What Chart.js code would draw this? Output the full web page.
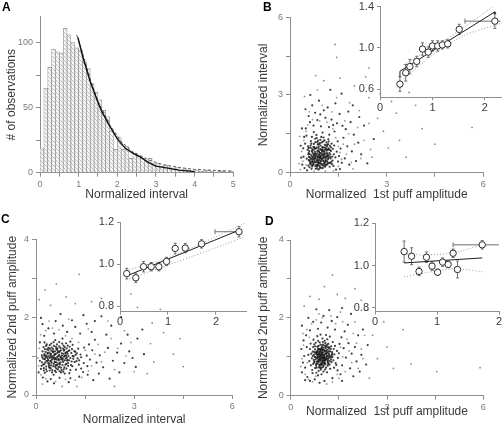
<!DOCTYPE html>
<html>
<head>
<meta charset="utf-8">
<script src="https://cdn.jsdelivr.net/npm/chart.js"></script>
<style>
  body { margin: 0; background: #fff; }
  #fig { position: relative; width: 503px; height: 428px; overflow: hidden; }
  #fig canvas { position: absolute; }
  .tag { position: absolute; font: bold 12px "Liberation Sans", Arial, sans-serif; line-height: 12px; color: #000; }
</style>
</head>
<body>
<div id="fig">
  <canvas id="cA"></canvas>
  <canvas id="cB"></canvas>
  <canvas id="cC"></canvas>
  <canvas id="cD"></canvas>
  <canvas id="iB"></canvas>
  <canvas id="iC"></canvas>
  <canvas id="iD"></canvas>
  <div class="tag" style="left:2px;top:1px">A</div>
  <div class="tag" style="left:263px;top:1px">B</div>
  <div class="tag" style="left:1px;top:213px">C</div>
  <div class="tag" style="left:265px;top:215px">D</div>
</div>
<script>
const FONT = "'Liberation Sans', Arial, sans-serif";
const AXIS = '#8e8e8e';
const TITLE = '#3a3a3a';

// ---- panel A: histogram of normalized intervals ----
const aBinMid = [0.05,0.15,0.25,0.35,0.45,0.55,0.65,0.75,0.85,0.95,
                 1.05,1.15,1.25,1.35,1.45,1.55,1.65,1.75,1.85,1.95,
                 2.05,2.15,2.25,2.35,2.45,2.55,2.65,2.75,2.85,2.95,
                 3.05,3.15,3.25,3.35,3.45,3.55,3.65,3.75,3.85,3.95,
                 4.05,4.15,4.25,4.35,4.45,4.55,4.65,4.75,4.85,4.95];
const aCount = [19,65,81,95,93,92,111,106,100,96,
                94,85,80,69,62,56,48,43,32,18,
                27,18,20,11,15,13,11,9,11,7,
                7,5,6,4,3,4,2,3,2,1,
                2,1,1,2,1,0,1,1,0,1];
const aFitX = [0.98,1.1,1.2,1.3,1.4,1.5,1.6,1.8,2.0,2.2,2.4,2.6,2.8,3.0,3.3,3.6,4.0];
const aFitY = [104,90,80,70,62,54,47,36,26,19,15,12,8,5,3.5,2,0.8];
const aTailX = [0.95,1.1,1.3,1.5,1.8,2.1,2.4,2.8,3.2,3.6,4.0,4.5,5.0];
const aTailY = [106,92,72,55,37,24,16,10,6,4,2.5,1.8,1.2];
const aXTicks = [0,0.5,1,1.5,2,2.5,3,3.5,4,4.5,5];
const aXLabels = ['0','','1','','2','','3','','4','','5'];
const aYTicks = [0,25,50,75,100];
const aYLabels = ['0','','50','','100'];

// ---- main scatter ticks (B, C, D) ----
const sixTicks = [0,1.5,3,4.5,6];
const sixLabels = ['0','','3','','6'];
const fourTicks = [0,1,2,3,4];
const fourLabels = ['0','','2','','4'];

// ---- panel B: interval vs 1st puff amplitude ----
const bDots = [
  [0.62,0.35],[0.71,0.52],[0.83,0.28],[0.95,0.61],[1.04,0.44],[1.12,0.73],[0.88,0.95],[0.77,0.81],[1.21,0.38],[0.66,0.67],
  [0.93,0.22],[1.01,0.88],[1.15,1.02],[0.58,0.49],[0.74,1.11],[0.86,0.57],[0.99,0.33],[1.08,0.65],[1.27,0.84],[0.69,0.24],
  [0.81,0.41],[0.92,0.78],[1.03,1.21],[1.18,0.52],[0.55,0.88],[0.64,1.05],[0.97,1.38],[1.11,0.29],[1.24,0.61],[0.79,0.66],
  [0.87,1.24],[1.06,0.97],[0.73,0.31],[0.91,0.49],[1.32,0.47],[1.19,1.29],[0.61,0.72],[0.84,0.18],[1.02,0.56],[0.95,1.05],
  [0.68,0.93],[1.14,0.85],[0.76,0.46],[0.89,0.69],[1.09,0.41],[1.29,1.12],[0.57,0.27],[0.98,0.74],[1.23,0.23],[0.82,1.46],
  [0.72,0.59],[0.94,0.91],[1.05,0.26],[1.16,0.64],[0.63,0.42],[0.85,0.83],[1.36,0.71],[0.78,1.31],[1.01,1.55],[0.9,0.37],
  [1.13,1.17],[0.67,0.15],[0.8,0.54],[0.96,0.47],[1.2,0.94],[1.07,0.79],[0.59,0.61],[0.75,0.98],[0.88,0.12],[1.26,0.55],
  [1.0,0.68],[0.86,1.09],[1.1,0.52],[0.7,0.77],[0.93,0.59],[1.17,0.34],[0.52,0.54],[1.33,0.92],[0.81,0.71],[1.04,1.36],
  [0.65,1.22],[0.92,0.27],[1.22,1.47],[0.77,0.39],[0.99,0.86],[1.12,0.58],[0.6,0.83],[0.84,0.63],[1.3,0.33],[0.74,1.57],
  [0.97,0.19],[1.08,1.08],[0.69,0.45],[0.89,1.01],[1.15,0.76],[1.41,0.59],[0.56,1.02],[0.79,0.25],[1.03,0.71],[0.94,1.27],
  [0.83,0.48],[1.25,0.71],[0.71,0.87],[1.06,0.36],[0.9,0.81],[1.18,1.1],[0.62,0.58],[1.37,1.05],[0.87,0.32],[1.0,0.99],
  [0.76,0.64],[1.11,0.95],[0.95,0.42],[1.28,0.42],[0.66,0.31],[0.85,1.18],[1.2,0.66],[1.02,0.18],[0.73,0.72],[0.91,0.63],
  [1.14,0.47],[0.58,0.76],[0.8,0.93],[1.35,0.26],[0.97,0.55],[1.07,1.25],[0.68,1.38],[0.88,0.44],[1.23,0.88],[1.45,0.81],
  [0.64,0.51],[0.78,0.58],[0.91,0.71],[1.05,0.82],[1.16,0.41],[0.72,0.37],[0.86,0.26],[0.99,0.52],[1.13,0.62],[0.68,0.83],
  [0.82,0.97],[0.95,0.35],[1.09,0.23],[1.22,0.76],[0.6,0.46],[0.74,0.69],[0.88,0.86],[1.02,0.97],[1.18,0.89],[0.66,1.12],
  [0.8,0.15],[0.93,1.14],[1.06,0.58],[1.31,0.62],[0.7,0.29],[0.84,0.75],[0.97,0.89],[1.11,1.05],[1.25,0.37],[0.57,0.71],
  [0.75,0.53],[0.89,0.38],[1.03,0.47],[1.17,0.69],[0.63,0.97],[0.79,1.18],[0.92,0.16],[1.08,0.87],[1.2,1.2],[0.71,0.42],
  [0.87,0.62],[1.0,0.81],[1.14,0.31],[0.67,0.54],[0.83,1.34],[0.96,0.66],[1.1,0.45],[1.27,0.98],[0.61,0.21],[0.76,0.92],
  [0.9,1.1],[1.04,0.63],[1.19,0.57],[0.73,1.0],[0.86,0.49],[0.99,1.17],[1.13,0.91],[0.65,0.39],[0.81,0.29],[1.07,0.34],
  [0.94,0.76],[1.24,1.04],[0.69,0.62],[0.85,0.4],[1.01,0.29],[1.16,1.08],[0.78,0.75],[0.92,0.55],[1.06,0.72],[0.58,0.95],
  [0.42,0.62],[0.38,0.31],[0.47,1.12],[0.45,0.18],[0.51,1.43],[1.52,0.64],[1.61,0.38],[1.48,1.21],[1.57,0.93],[1.66,1.35],
  [0.49,1.71],[0.73,1.82],[0.96,1.79],[1.21,1.76],[1.38,1.59],[0.85,2.03],[1.1,2.12],[0.62,1.95],[1.46,1.91],[1.7,0.55],
  [1.78,1.02],[1.84,0.31],[1.55,0.14],[0.41,0.94],[0.35,0.58],[0.44,1.38],[0.53,0.09],[1.43,0.12],[1.73,1.68],[1.29,2.05],
  [0.78,2.31],[1.05,2.41],[0.58,2.19],[1.54,2.27],[1.92,0.82],[1.98,1.47],[2.05,0.45],[1.88,1.95],[0.37,1.71],[1.34,1.84],
  [0.94,2.25],[1.63,1.81],[1.49,0.43],[0.33,1.04],[2.12,1.16],[1.81,2.36],[0.69,2.6],[1.17,2.52],[2.21,0.71],[2.3,1.82],
  [0.48,2.45],[1.41,2.68],[0.9,2.78],[1.95,2.6],[2.4,0.36],[2.15,2.15],[1.6,3.05],[0.63,3.0],[2.6,1.3],[1.25,3.2]
];
const bHalo = [
  [0.32,0.12],[0.4,0.45],[0.36,0.82],[0.43,1.25],[0.5,1.6],[0.55,1.85],[0.7,2.05],[0.92,2.0],[1.15,1.95],[1.33,1.7],
  [1.42,1.35],[1.5,1.02],[1.55,0.78],[1.6,0.52],[1.5,0.25],[1.35,0.08],[1.1,0.06],[0.75,0.05],[0.5,0.3],[1.65,1.1],
  [1.75,0.72],[1.82,1.5],[1.9,0.4],[2.0,1.1],[2.1,1.75],[2.2,0.55],[2.3,1.25],[1.7,2.0],[1.3,2.35],[0.6,2.35],
  [1.0,2.6],[1.85,2.7],[2.45,1.9],[2.5,0.9],[0.3,1.4],[0.28,0.35],[1.95,0.15],[2.15,2.4],[1.45,2.9],[0.85,3.2]
];
const bFar = [
  [2.45,2.9],[2.72,2.1],[2.9,1.6],[3.05,0.95],[2.55,0.6],[3.3,2.3],[1.05,3.55],[2.0,3.35],[2.8,3.05],[3.4,1.25],
  [0.8,3.75],[1.55,3.65],[3.15,2.75],[2.35,3.7],[3.6,0.6],[4.1,1.7],[1.45,4.45],[1.4,4.95],[2.45,4.05],[3.9,2.6],
  [5.65,1.75],[4.5,1.1],[0.45,2.95],[3.7,3.1]
];

// ---- panel C: 2nd puff amplitude vs interval ----
const cDots = [
  [0.35,0.95],[0.52,1.12],[0.28,0.83],[0.61,0.95],[0.44,1.04],[0.73,1.12],[0.95,0.88],[0.81,0.77],[0.38,1.21],[0.67,0.66],
  [0.22,0.93],[0.88,1.01],[1.02,1.15],[0.49,0.58],[1.11,0.74],[0.57,0.86],[0.33,0.99],[0.65,1.08],[0.84,1.27],[0.24,0.69],
  [0.41,0.81],[0.78,0.92],[1.21,1.03],[0.52,1.18],[0.88,0.55],[1.05,0.64],[1.38,0.97],[0.29,1.11],[0.61,1.24],[0.66,0.79],
  [1.24,0.87],[0.97,1.06],[0.31,0.73],[0.49,0.91],[0.47,1.32],[1.29,1.19],[0.72,0.61],[0.18,0.84],[0.56,1.02],[1.05,0.95],
  [0.93,0.68],[0.85,1.14],[0.46,0.76],[0.69,0.89],[0.41,1.09],[1.12,1.29],[0.27,0.57],[0.74,0.98],[0.23,1.23],[1.46,0.82],
  [0.59,0.72],[0.91,0.94],[0.26,1.05],[0.64,1.16],[0.42,0.63],[0.83,0.85],[0.71,1.36],[1.31,0.78],[1.55,1.01],[0.37,0.9],
  [1.17,1.13],[0.15,0.67],[0.54,0.8],[0.47,0.96],[0.94,1.2],[0.79,1.07],[0.61,0.59],[0.98,0.75],[0.12,0.88],[0.55,1.26],
  [0.68,1.0],[1.09,0.86],[0.52,1.1],[0.77,0.7],[0.59,0.93],[0.34,1.17],[0.54,0.52],[0.92,1.33],[0.71,0.81],[1.36,1.04],
  [1.22,0.65],[0.27,0.92],[1.47,1.22],[0.39,0.77],[0.86,0.99],[0.58,1.12],[0.83,0.6],[0.63,0.84],[0.33,1.3],[1.57,0.74],
  [0.19,0.97],[1.08,1.08],[0.45,0.69],[1.01,0.89],[0.76,1.15],[0.59,1.41],[1.02,0.56],[0.25,0.79],[0.71,1.03],[1.27,0.94],
  [0.48,0.83],[0.71,1.25],[0.87,0.71],[0.36,1.06],[0.81,0.9],[1.1,1.18],[0.58,0.62],[1.05,1.37],[0.32,0.87],[0.99,1.0],
  [0.64,0.76],[0.95,1.11],[0.42,0.95],[0.42,1.28],[0.31,0.66],[1.18,0.85],[0.66,1.2],[0.18,1.02],[0.72,0.73],[0.63,0.91],
  [0.47,1.14],[0.76,0.58],[0.93,0.8],[0.26,1.35],[0.55,0.97],[1.25,1.07],[1.38,0.68],[0.44,0.88],[0.88,1.23],[0.81,1.45],
  [0.3,1.01],[0.45,0.87],[0.6,1.05],[0.75,0.84],[0.9,1.08],[0.38,1.15],[0.53,0.74],[0.68,0.93],[0.83,1.19],[0.98,0.82],
  [0.22,0.78],[0.36,0.88],[0.5,1.0],[0.64,1.3],[0.79,1.01],[0.94,0.97],[1.14,0.93],[0.27,1.18],[0.41,0.7],[0.56,0.92],
  [0.7,1.1],[0.85,0.66],[1.0,1.13],[0.33,0.61],[0.48,1.22],[0.62,0.68],[0.77,0.96],[0.92,1.02],[1.07,0.77],[0.2,1.12],
  [0.35,1.08],[0.5,0.64],[0.65,0.98],[0.8,1.32],[0.96,0.91],[1.2,1.11],[0.29,0.96],[0.43,1.19],[0.58,0.84],[0.73,0.79],
  [0.88,0.89],[1.03,1.24],[0.24,0.63],[0.39,0.99],[0.54,1.36],[0.69,0.71],[0.84,1.06],[1.15,0.99],[0.31,1.26],[0.46,1.06],
  [0.6,0.77],[0.75,1.21],[0.9,0.78],[1.32,0.89],[0.17,0.75],[0.52,0.95],[0.67,1.13],[0.82,0.94],[0.97,1.27],[0.4,0.73],
  [0.25,1.01],[0.57,1.05],[0.72,0.91],[0.87,1.16],[1.12,1.0],[0.37,0.82],[0.62,1.19],[0.78,0.64],[0.93,1.09],[0.45,1.0],
  [1.65,0.91],[1.72,1.15],[1.44,0.59],[1.85,0.83],[1.62,1.3],
  [1.95,1.02],[2.05,0.71],[1.8,1.42],[2.2,1.21],[2.35,0.88],[1.92,0.55],[2.48,1.09],[2.15,1.55],[1.7,1.62],[1.35,1.58],
  [0.95,1.62],[0.55,1.58],[0.25,1.52],[0.12,1.35],[0.08,0.58],[0.21,0.45],[0.45,0.41],[0.72,0.44],[1.05,0.43],[1.32,0.47],
  [1.58,0.52],[0.38,1.71],[0.82,1.78],[1.2,1.75],[1.55,1.83],[2.6,1.32],[2.7,0.82],[2.55,0.58],[2.85,1.12],[2.95,0.95],
  [1.1,1.92],[0.6,1.9],[0.2,1.82],[1.8,1.9],[2.3,1.78],[3.1,1.45],[3.05,0.72],[2.25,0.42],[0.35,0.35],[1.0,0.33],
  [0.15,1.98],[1.45,2.05],[2.0,2.02],[0.75,2.08],[3.3,1.05],[3.25,1.68],[2.8,1.55],[1.75,0.38],[0.55,0.3],[2.6,2.0]
];
const cHalo = [
  [0.06,0.95],[0.1,1.2],[0.08,0.75],[0.14,1.55],[0.3,1.65],[0.5,1.72],[0.7,1.68],[0.9,1.52],[1.1,1.45],[1.3,1.35],
  [1.5,1.15],[1.6,0.62],[1.4,0.45],[1.2,0.38],[0.9,0.4],[0.6,0.35],[0.3,0.42],[0.15,0.52],[1.8,1.05],[1.9,1.3],
  [2.0,0.85],[2.1,1.1],[2.3,1.45],[2.4,0.65],[2.5,1.2],[2.75,1.0],[2.9,1.35],[1.7,0.75],[0.4,1.9],[1.0,1.95],
  [1.6,1.7],[2.2,1.9],[2.7,1.65],[3.0,0.6],[0.2,0.28],[1.25,0.22]
];
const cFar = [
  [0.1,2.45],[0.28,2.7],[0.62,2.85],[0.92,2.52],[1.32,3.1],[2.0,2.48],[1.2,2.35],[0.45,2.3],[3.5,1.32],[3.6,0.85],
  [3.9,1.6],[4.4,1.45],[4.5,0.73],[3.8,2.2],[4.2,1.05],[3.1,2.25],[1.7,2.4],[2.4,0.22],[3.4,0.55],[0.8,0.22],
  [2.9,2.6],[3.55,1.85]
];

// ---- panel D: 2nd vs 1st puff amplitude ----
const dDots = [
  [0.95,1.02],[1.08,0.91],[0.87,1.13],[1.12,1.08],[0.78,0.94],[1.01,0.83],[1.19,1.21],[0.91,0.76],[0.83,1.26],[1.05,1.15],
  [0.99,0.97],[1.15,0.87],[0.72,1.05],[0.93,1.31],[1.24,0.98],[0.86,0.85],[1.03,1.24],[0.8,1.12],[1.1,0.72],[0.97,1.08],
  [1.29,1.12],[0.7,0.82],[0.89,0.99],[1.17,1.33],[1.06,0.95],[0.76,1.19],[0.94,0.67],[1.21,0.8],[0.84,1.04],[1.0,1.38],
  [1.13,1.01],[0.66,0.96],[0.92,1.18],[1.33,0.91],[0.81,0.72],[1.07,1.29],[0.98,0.86],[1.26,1.27],[0.73,1.32],[0.9,0.92],
  [1.18,0.95],[1.02,0.62],[0.85,1.41],[1.36,1.06],[0.69,1.13],[0.96,1.22],[1.11,1.16],[0.79,0.81],[1.23,0.69],[1.04,1.05],
  [0.88,1.09],[0.63,0.78],[1.4,0.84],[0.99,1.47],[1.15,0.77],[0.75,1.0],[1.31,1.38],[0.93,0.81],[1.08,1.35],[0.82,0.98],
  [1.2,1.05],[0.6,1.2],[1.01,0.74],[0.87,0.64],[1.27,0.86],[0.95,1.12],[1.44,1.15],[0.71,1.44],[1.14,1.45],[0.92,1.0],
  [1.05,0.84],[0.77,1.09],[1.35,0.72],[0.98,1.29],[0.84,0.9],[1.19,1.14],[0.67,0.66],[1.09,0.98],[1.47,0.97],[0.9,1.37],
  [1.02,1.11],[0.8,0.59],[1.25,1.2],[0.74,0.88],[1.12,0.93],[0.96,0.55],[1.38,1.28],[0.86,1.19],[1.07,0.67],[0.64,1.08],
  [1.16,1.25],[0.94,0.94],[1.3,0.99],[0.78,1.36],[1.03,0.89],[0.58,0.89],[1.22,1.52],[0.88,0.73],[1.5,1.09],[1.0,1.19],
  [0.83,1.53],[1.13,0.6],[0.7,1.25],[1.28,1.04],[0.97,0.79],[1.06,1.41],[0.62,1.34],[1.42,0.79],[0.91,1.06],[1.17,0.84],
  [0.76,0.71],[1.34,1.2],[1.04,0.97],[0.85,0.52],[1.52,1.33],[0.68,0.58],[1.1,1.56],[0.93,1.57],[1.46,0.65],[0.55,1.05],
  [0.96,0.98],[1.04,1.02],[0.9,1.04],[1.1,0.94],[0.84,0.96],[0.98,1.1],[1.14,1.12],[0.88,0.88],[1.02,0.92],[0.93,1.16],
  [1.07,1.07],[0.8,1.06],[1.2,0.99],[0.95,0.83],[1.09,1.22],[0.86,1.21],[1.0,1.04],[1.16,0.9],[0.77,0.99],[0.92,0.95],
  [1.06,0.85],[1.23,1.14],[0.83,1.15],[0.97,1.24],[1.12,1.03],[0.74,1.12],[0.89,0.79],[1.03,1.18],[1.18,1.03],[0.94,1.06],
  [1.08,0.81],[0.81,0.87],[1.26,0.93],[0.99,0.91],[0.87,1.28],[1.13,1.3],[0.72,0.92],[1.01,1.31],[1.15,0.96],[0.91,1.12],
  [1.05,0.99],[0.79,0.77],[1.21,1.24],[0.96,0.72],[1.11,1.1],[0.85,1.0],[0.99,1.16],[1.17,0.81],[0.69,1.02],[0.94,0.89],
  [1.07,1.14],[0.82,1.1],[1.29,1.08],[1.03,0.78],[0.9,1.2],[1.14,1.18],[0.76,1.27],[0.98,1.02],[1.22,0.89],[0.88,0.93],
  [1.0,0.96],[1.1,1.26],[0.83,0.82],[0.95,1.19],[1.19,1.09],[0.73,0.85],[1.06,0.91],[0.92,0.71],[1.25,1.01],[0.86,1.06],
  [0.45,0.72],[0.5,1.25],[0.42,1.02],[0.52,0.48],[0.48,1.55],[0.38,0.85],[1.6,0.78],[1.65,1.22],[1.58,1.5],[1.72,0.98],
  [1.55,0.55],[1.68,1.65],[0.6,1.68],[0.85,1.72],[1.15,1.75],[1.38,1.7],[0.75,0.42],[1.05,0.38],[1.3,0.45],[0.6,0.38],
  [1.8,1.35],[1.85,0.7],[1.9,1.08],[1.78,1.82],[0.4,1.42],[0.35,0.6],[0.33,1.2],[0.95,1.88],[1.28,1.92],[0.7,1.9],
  [2.0,1.25],[2.05,0.88],[2.1,1.55],[1.95,0.5],[1.45,2.02],[1.02,2.05],[0.55,2.0],[0.9,0.33],[1.6,0.38],[2.2,1.05],
  [2.25,1.7],[1.88,2.1],[0.35,1.8],[0.45,0.4],[2.35,0.8],[1.2,2.2],[0.8,2.22],[2.15,0.62],[1.6,2.25],[2.4,1.3]
];
const dHalo = [
  [0.35,0.95],[0.4,1.3],[0.45,0.55],[0.5,1.7],[0.55,0.42],[0.65,1.85],[0.68,0.36],[0.8,1.95],[0.98,2.0],[1.12,0.3],
  [1.3,0.35],[1.4,1.85],[1.5,0.45],[1.62,1.9],[1.7,0.62],[1.75,1.45],[1.82,1.15],[1.9,0.85],[1.95,1.6],[2.05,1.35],
  [2.1,0.7],[2.2,1.2],[2.3,1.55],[2.0,1.9],[0.38,1.6],[0.32,0.75],[1.25,2.05],[0.88,2.1],[1.55,2.15],[2.25,0.95],
  [0.58,1.5],[1.55,1.25],[1.62,1.0],[0.52,0.85],[1.45,0.55],[0.78,0.5]
];
const dFar = [
  [0.6,2.55],[0.88,2.48],[1.3,3.1],[1.05,2.8],[2.0,2.75],[1.7,2.5],[2.4,2.2],[2.55,1.55],[2.7,0.95],[3.2,0.7],
  [3.75,0.82],[3.5,1.7],[4.55,0.62],[5.9,0.72],[2.45,0.45],[0.42,2.3],[2.9,1.9],[1.45,2.6],[3.0,1.25],[2.2,2.45]
];

// ---- insets: binned means ----
const ibX = [0.38,0.49,0.57,0.70,0.81,0.92,1.00,1.10,1.19,1.29,1.51,2.19];
const ibY = [0.65,0.76,0.82,0.87,0.99,0.96,1.02,1.02,1.03,1.04,1.18,1.26];
const ibErr = [0.07,0.08,0.07,0.05,0.06,0.05,0.05,0.05,0.04,0.04,0.05,0.07];
const ibXErr = [null,null,null,null,null,null,null,null,null,null,null,[1.62,2.3]];
const ibFitX = [0.38,0.38,2.19,2.19];
const ibFitY = [0.72,0.775,1.35,1.33];
const ibBandX = [0.45,1.0,1.6,2.32];
const ibUpY = [0.84,1.0,1.2,1.46];
const ibLoY = [0.70,0.93,1.12,1.24];
const ibXTicks = [0,1,2], ibXLabels = ['0','1','2'];
const ibYTicks = [0.6,1.0,1.4], ibYLabels = ['0.6','1.0','1.4'];

const icX = [0.14,0.33,0.49,0.65,0.81,0.97,1.15,1.36,1.70,2.48];
const icY = [0.955,0.935,0.988,0.988,0.988,1.013,1.075,1.077,1.097,1.155];
const icErr = [0.025,0.022,0.025,0.02,0.02,0.02,0.025,0.022,0.02,0.025];
const icXErr = [null,null,null,null,null,null,null,null,null,[1.98,2.48]];
const icFitX = [0.14,2.48];
const icFitY = [0.944,1.162];
const icBandX = [0.14,1.0,2.6];
const icUpY = [0.97,1.03,1.195];
const icLoY = [0.925,0.995,1.13];
const icXTicks = [0,1,2], icXLabels = ['0','1','2'];
const icYTicks = [0.8,1.0,1.2], icYLabels = ['0.8','1.0','1.2'];

const idX = [0.47,0.59,0.71,0.83,0.92,1.01,1.09,1.18,1.26,1.33,1.73];
const idY = [1.066,1.044,0.972,1.039,0.997,0.968,1.016,1.005,1.058,0.981,1.098];
const idErr = [0.05,0.04,0.02,0.025,0.02,0.015,0.02,0.015,0.02,0.04,0.02];
const idXErr = [null,null,null,null,null,null,null,null,null,null,[1.26,2.1]];
const idFitX = [0.47,1.73];
const idFitY = [1.012,1.036];
const idBandX = [0.47,0.8,1.3,1.73];
const idUpY = [1.055,1.05,1.062,1.10];
const idLoY = [0.945,0.965,0.985,0.97];
const idXTicks = [0,1,2], idXLabels = ['0','1','2'];
const idYTicks = [0.8,1.0,1.2], idYLabels = ['0.8','1.0','1.2'];

// ---------------------------------------------------------------
const pts = (xs, ys) => xs.map((x, i) => ({ x: x, y: ys[i] }));
const cloud = pairs => pairs.map(p => ({ x: p[0], y: p[1] }));

function place(id, box) {
  const c = document.getElementById(id);
  c.width = box.w; c.height = box.h;
  c.style.left = box.l + 'px'; c.style.top = box.t + 'px';
  return c;
}

function pads(box, area, yw, xh) {
  return { left: area.l - box.l - yw, top: area.t - box.t,
           right: box.l + box.w - area.r, bottom: box.t + box.h - area.b - xh };
}

function hatch() {
  const c = document.createElement('canvas');
  c.width = 4; c.height = 4;
  const g = c.getContext('2d');
  g.fillStyle = '#f6f6f6'; g.fillRect(0, 0, 4, 4);
  g.strokeStyle = '#b4b4b4'; g.lineWidth = 0.8;
  g.beginPath(); g.moveTo(0, 0); g.lineTo(4, 4); g.stroke();
  return g.createPattern(c, 'repeat');
}

function axis(o) {
  return {
    type: 'linear', min: o.min, max: o.max, offset: false,
    afterBuildTicks: s => { s.ticks = o.ticks.map(v => ({ value: v })); },
    afterFit: s => { if (o.w !== undefined) s.width = o.w; if (o.h !== undefined) s.height = o.h; },
    ticks: {
      autoSkip: false, maxRotation: 0, padding: o.tp === undefined ? 2 : o.tp,
      color: o.inset ? '#3c3c3c' : '#7a7a7a',
      font: { family: FONT, size: o.inset ? 11 : 9 },
      callback: (v, i) => o.labels[i]
    },
    grid: { drawOnChartArea: false, drawTicks: true, tickLength: o.inset ? 3 : 4, color: AXIS, offset: false },
    border: { display: true, color: AXIS, width: 1 },
    title: o.title
      ? { display: true, text: o.title, color: TITLE, font: { family: FONT, size: 12 }, padding: o.tpad }
      : { display: false }
  };
}

function opts(padding, scales, extra) {
  return Object.assign({
    responsive: false, animation: false, devicePixelRatio: 1, events: [],
    layout: { padding: padding },
    plugins: { legend: { display: false }, tooltip: { enabled: false } },
    scales: scales
  }, extra || {});
}

// error bars under the open circles
const errorBars = {
  id: 'errorBars',
  beforeDatasetsDraw(chart) {
    const { ctx, scales: { x, y } } = chart;
    chart.data.datasets.forEach(ds => {
      if (!ds.errY) return;
      ctx.save();
      ctx.strokeStyle = '#6e6e6e'; ctx.lineWidth = 1;
      ds.data.forEach((p, i) => {
        const px = x.getPixelForValue(p.x), py = y.getPixelForValue(p.y);
        const y0 = y.getPixelForValue(p.y - ds.errY[i]), y1 = y.getPixelForValue(p.y + ds.errY[i]);
        ctx.beginPath();
        ctx.moveTo(px, y0); ctx.lineTo(px, y1);
        ctx.moveTo(px - 1.5, y0); ctx.lineTo(px + 1.5, y0);
        ctx.moveTo(px - 1.5, y1); ctx.lineTo(px + 1.5, y1);
        const xe = ds.errX && ds.errX[i];
        if (xe) {
          const x0 = x.getPixelForValue(xe[0]), x1 = x.getPixelForValue(Math.min(xe[1], x.max));
          ctx.moveTo(x0, py); ctx.lineTo(x1, py);
          ctx.moveTo(x0, py - 2.5); ctx.lineTo(x0, py + 2.5);
        }
        ctx.stroke();
      });
      ctx.restore();
    });
  }
};

// ---- A ----
const boxA = { l: 0, t: 0, w: 250, h: 210 }, areaA = { l: 40, t: 16.7, r: 233.3, b: 172.7 };
new Chart(place('cA', boxA), {
  type: 'bar',
  data: {
    datasets: [
      { type: 'line', data: pts(aFitX, aFitY), borderColor: '#111', borderWidth: 1.4, pointRadius: 0, tension: 0 },
      { type: 'line', data: pts(aTailX, aTailY), borderColor: '#555', borderWidth: 1, borderDash: [3, 2], pointRadius: 0, tension: 0 },
      { type: 'bar', data: pts(aBinMid, aCount), backgroundColor: hatch(), borderColor: '#8c8c8c', borderWidth: 0.7,
        barPercentage: 1, categoryPercentage: 1 }
    ]
  },
  options: opts(pads(boxA, areaA, 40, 37.3), {
    x: axis({ min: 0, max: 5, ticks: aXTicks, labels: aXLabels, h: 37.3, title: 'Normalized interval', tpad: { top: 0, bottom: 7.8 } }),
    y: axis({ min: 0, max: 120, ticks: aYTicks, labels: aYLabels, w: 40, tp: 3, title: '# of observations', tpad: { top: 4.8, bottom: 0 } })
  })
});

// ---- main scatter helper ----
function scatterPanel(id, box, area, yw, xh, dots, halo, far, ymax, yTicks, yLabels, xTitle, yTitle, xtp, ytp) {
  new Chart(place(id, box), {
    type: 'scatter',
    data: {
      datasets: [
        { data: cloud(dots), pointRadius: 1.1, pointBorderWidth: 0, pointBackgroundColor: 'rgba(15,15,15,0.8)' },
        { data: cloud(halo), pointRadius: 0.9, pointBorderWidth: 0, pointBackgroundColor: 'rgba(110,110,110,0.7)' },
        { data: cloud(far), pointRadius: 0.9, pointBorderWidth: 0, pointBackgroundColor: 'rgba(90,90,90,0.7)' }
      ]
    },
    options: opts(pads(box, area, yw, xh), {
      x: axis({ min: 0, max: 6, ticks: sixTicks, labels: sixLabels, h: xh, title: xTitle, tpad: { top: 0, bottom: xtp } }),
      y: axis({ min: 0, max: ymax, ticks: yTicks, labels: yLabels, w: yw, tp: 3, title: yTitle, tpad: { top: ytp, bottom: 0 } })
    })
  });
}

scatterPanel('cB', { l: 250, t: 0, w: 253, h: 210 }, { l: 290, t: 17.3, r: 483.3, b: 172.7 }, 40, 37.3,
  bDots, bHalo, bFar, 6, sixTicks, sixLabels, 'Normalized  1st puff amplitude', 'Normalized interval', 7.8, 6.8);
scatterPanel('cC', { l: 0, t: 210, w: 250, h: 218 }, { l: 36, t: 239.3, r: 232.3, b: 395 }, 36, 33,
  cDots, cHalo, cFar, 4, fourTicks, fourLabels, 'Normalized interval', 'Normalized 2nd puff amplitude', 1, 5.8);
scatterPanel('cD', { l: 250, t: 210, w: 253, h: 218 }, { l: 290.7, t: 240, r: 483.3, b: 395.7 }, 40.7, 32.3,
  dDots, dHalo, dFar, 4, fourTicks, fourLabels, 'Normalized  1st puff amplitude', 'Normalized 2nd puff amplitude', 8.8, 6.1);

// ---- insets ----
function inset(id, box, area, s) {
  const yw = area.l - box.l, xh = box.t + box.h - area.b;
  new Chart(place(id, box), {
    type: 'scatter',
    data: {
      datasets: [
        { data: pts(s.x, s.y), errY: s.err, errX: s.xerr, pointRadius: 3.2, pointBorderWidth: 1,
          pointBorderColor: '#2a2a2a', pointBackgroundColor: '#fff' },
        { data: pts(s.fitX, s.fitY), showLine: true, borderColor: '#1e1e1e', borderWidth: 1, pointRadius: 0, tension: 0 },
        { data: pts(s.bandX, s.upY), showLine: true, borderColor: '#9a9a9a', borderWidth: 1, borderDash: [1, 2], pointRadius: 0, tension: 0.3 },
        { data: pts(s.bandX, s.loY), showLine: true, borderColor: '#9a9a9a', borderWidth: 1, borderDash: [1, 2], pointRadius: 0, tension: 0.3 }
      ]
    },
    options: opts(pads(box, area, yw, xh), {
      x: axis({ min: 0, max: s.xmax, ticks: s.xt, labels: s.xl, h: xh, inset: true, tp: 1 }),
      y: axis({ min: s.ymin, max: s.ymax, ticks: s.yt, labels: s.yl, w: yw, inset: true, tp: 3 })
    }),
    plugins: [errorBars]
  });
}

inset('iB', { l: 340, t: -10, w: 170, h: 125 }, { l: 380, t: 6.7, r: 501.7, b: 97.3 }, {
  x: ibX, y: ibY, err: ibErr, xerr: ibXErr, fitX: ibFitX, fitY: ibFitY, bandX: ibBandX, upY: ibUpY, loY: ibLoY,
  xmax: 2.32, ymin: 0.5225, ymax: 1.4, xt: ibXTicks, xl: ibXLabels, yt: ibYTicks, yl: ibYLabels
});
inset('iC', { l: 80, t: 205, w: 175, h: 125 }, { l: 120, t: 222.3, r: 246.7, b: 311.7 }, {
  x: icX, y: icY, err: icErr, xerr: icXErr, fitX: icFitX, fitY: icFitY, bandX: icBandX, upY: icUpY, loY: icLoY,
  xmax: 2.64, ymin: 0.773, ymax: 1.2, xt: icXTicks, xl: icXLabels, yt: icYTicks, yl: icYLabels
});
inset('iD', { l: 335, t: 205, w: 175, h: 125 }, { l: 375, t: 223.3, r: 499, b: 311.7 }, {
  x: idX, y: idY, err: idErr, xerr: idXErr, fitX: idFitX, fitY: idFitY, bandX: idBandX, upY: idUpY, loY: idLoY,
  xmax: 2, ymin: 0.781, ymax: 1.2, xt: idXTicks, xl: idXLabels, yt: idYTicks, yl: idYLabels
});
</script>
</body>
</html>
